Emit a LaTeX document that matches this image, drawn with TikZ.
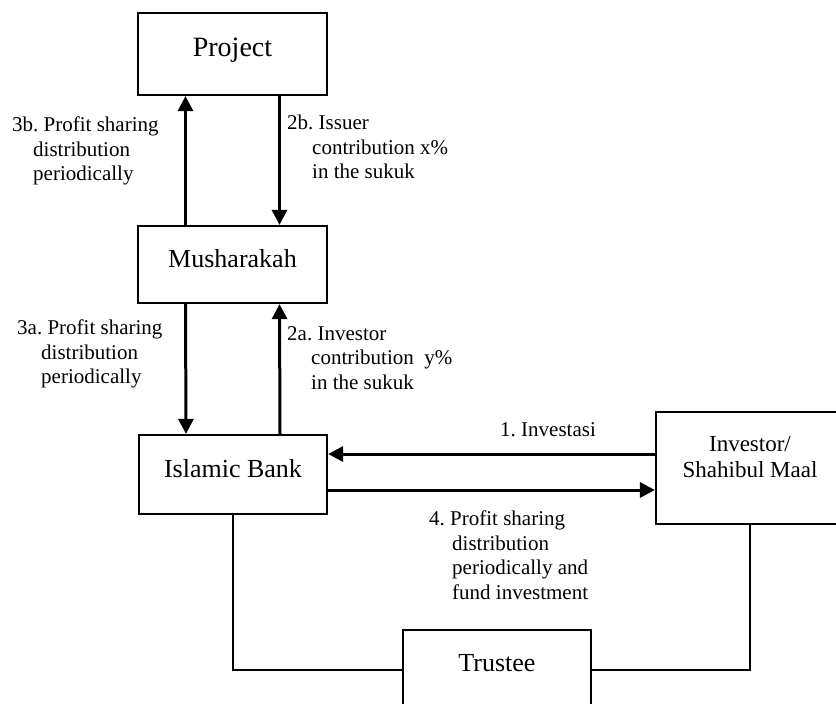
\documentclass[tikz,border=0pt]{standalone}
\usepackage{fontspec}
\setmainfont{Liberation Serif}
\usepackage{xcolor}
\usepackage{tikz}
\usetikzlibrary{arrows.meta}
\frenchspacing

\begin{document}
\begin{tikzpicture}[x=1pt,y=-1pt,
%
    block/.style={draw,line width=2.2pt,inner sep=0pt,font=\fontsize{26}{28}\selectfont,text height=18pt,text depth=13pt},
    lbl/.style={anchor=north west,inner sep=0pt,align=left,font=\fontsize{21}{24.5}\selectfont},
     Arr/.style={line width=3pt,-{Triangle[length=15pt,width=15pt]}},
     Lin/.style={line width=2.4pt},
                        ]
    \clip (0,0) rectangle (836,704);
    \node[block,minimum width=189pt,minimum height=82pt,font=\fontsize{28}{30}\selectfont] (project_node) at (232.5,54) {Project};
    \node[block,minimum width=189pt,minimum height=77pt] (mush_node) at (232.5,264.5) {Musharakah};
    \node[block,minimum width=188pt,minimum height=79pt] (bank_node) at (233,474.5) {Islamic Bank};
    \node[block,minimum width=188pt,minimum height=112pt,align=center,font=\fontsize{23}{26}\selectfont,text height=28pt,text depth=10pt] (inv_node) at (750,468) {Investor/\\Shahibul Maal};
    \node[block,anchor=north,minimum width=188pt,minimum height=80pt,text depth=16pt] (trustee_node) at (497,629) {Trustee};

    \draw[Arr] ([xshift=-47pt]mush_node.north) -- ([xshift=-47pt]project_node.south);
    \draw[Arr] ([xshift=47pt]project_node.south) -- ([xshift=47pt]mush_node.north);
    \draw[Arr] ([xshift=-47pt]mush_node.south) -- ([xshift=-47pt]bank_node.north);
    \draw[Arr] ([xshift=47pt]bank_node.north) -- ([xshift=47pt]mush_node.south);
    \draw[Arr] ([yshift=14pt]inv_node.west) -- ([yshift=14pt]inv_node.west -| bank_node.east);
    \draw[Arr] ([yshift=-15.5pt]bank_node.east) -- ([yshift=-15.5pt]bank_node.east -| inv_node.west);
    \draw[Lin] (bank_node.south) |- (trustee_node.west);
    \draw[Lin] (trustee_node.east) -| (inv_node.south);

    \node[lbl] (lbl_3b) at (12,117) {3b. Profit sharing\\\hspace*{21pt}distribution\\\hspace*{21pt}periodically};
    \node[lbl] (lbl_2b) at (287,115) {2b. Issuer\\\hspace*{25pt}contribution x\%\\\hspace*{25pt}in the sukuk};
    \node[lbl] (lbl_3a) at (17,320) {3a. Profit sharing\\\hspace*{24pt}distribution\\\hspace*{24pt}periodically};
    \node[lbl] (lbl_2a) at (287,326) {2a. Investor\\\hspace*{24pt}contribution\ \ y\%\\\hspace*{24pt}in the sukuk};
    \node[lbl] (lbl_1) at (500,422) {1. Investasi};
    \node[lbl] (lbl_4) at (429,511) {4. Profit sharing\\\hspace*{23pt}distribution\\\hspace*{23pt}periodically and\\\hspace*{23pt}fund investment};

\end{tikzpicture}
\end{document}
